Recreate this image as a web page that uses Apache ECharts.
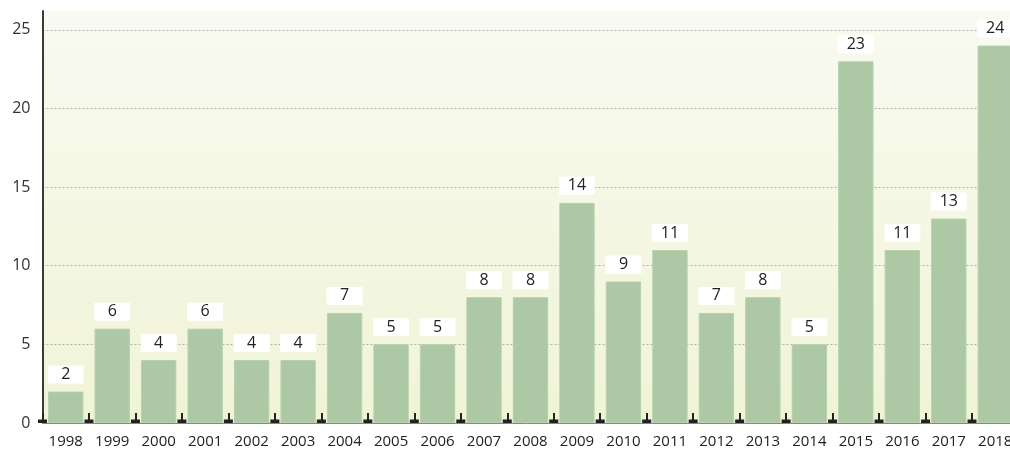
<!DOCTYPE html>
<html>
<head>
<meta charset="utf-8">
<script src="https://cdn.jsdelivr.net/npm/echarts@6/dist/echarts.min.js"></script>
<style>
html,body{margin:0;padding:0;background:#fff;}
#chart{width:1010px;height:450px;}
</style>
</head>
<body>
<div id="chart"></div>
<script>
const years = ['1998','1999','2000','2001','2002','2003','2004','2005','2006','2007','2008','2009','2010','2011','2012','2013','2014','2015','2016','2017','2018'];
const counts = [2,6,4,6,4,4,7,5,5,8,8,14,9,11,7,8,5,23,11,13,24];
const yTicks = [0,5,10,15,20,25];

const FONT = 'Open Sans';
const chart = echarts.init(document.getElementById('chart'), null, {renderer:'canvas'});
chart.setOption({
  animation: false,
  grid: {
    left: 42.5, top: 11, width: 976, height: 412,
    outerBoundsMode: 'none',
    containLabel: false,
    show: true, borderWidth: 0,
    backgroundColor: {
      type: 'linear', x: 0, y: 0, x2: 0, y2: 1,
      colorStops: [{offset: 0, color: '#f9faf1'}, {offset: 1, color: '#f0f4d6'}]
    }
  },
  xAxis: {
    type: 'category',
    data: years,
    boundaryGap: true,
    axisLine: {lineStyle: {color: '#8a8a70', width: 1}},
    axisTick: {show: true, inside: true, length: 10, lineStyle: {color: '#222', width: 2}},
    axisLabel: {color: '#222', fontSize: 15, fontFamily: FONT, margin: 11, interval: 0, hideOverlap: false}
  },
  yAxis: {
    type: 'value',
    min: 0, max: 26.2, interval: 5,
    axisLine: {show: true, lineStyle: {color: '#3a3a3a', width: 2}},
    axisTick: {show: false},
    axisLabel: {
      color: '#333', fontSize: 16, fontFamily: FONT, margin: 12,
      formatter: v => (yTicks.indexOf(v) >= 0 ? String(v) : '')
    },
    splitLine: {
      show: true,
      lineStyle: {type: [2, 2], width: 1, color: ['transparent','#b0b0a8','#b0b0a8','#b0b0a8','#b0b0a8','#b0b0a8','transparent']}
    }
  },
  series: [
    {
      type: 'bar',
      data: counts,
      barCategoryGap: '24%',
      itemStyle: {color: '#adc8a4', borderColor: '#b7d0ae', borderWidth: 1},
      label: {
        show: true, position: 'top', distance: 8,
        color: '#222', fontSize: 16, fontFamily: FONT,
        backgroundColor: '#ffffff',
        width: 36, height: 18, lineHeight: 18, align: 'center', padding: 0
      },
      z: 2
    },
    {
      type: 'custom',
      data: years.map((y, i) => [i, 0]),
      renderItem: function (params, api) {
        const p = api.coord([api.value(0), 0]);
        const w = api.size([1, 0])[0];
        const x = p[0] - w / 2;
        return {
          type: 'rect',
          shape: {x: x - 4.5, y: p[1] - 3.5, width: 9, height: 3.5},
          style: {fill: '#222'}
        };
      },
      z: 5,
      silent: true
    }
  ]
});
</script>
</body>
</html>
